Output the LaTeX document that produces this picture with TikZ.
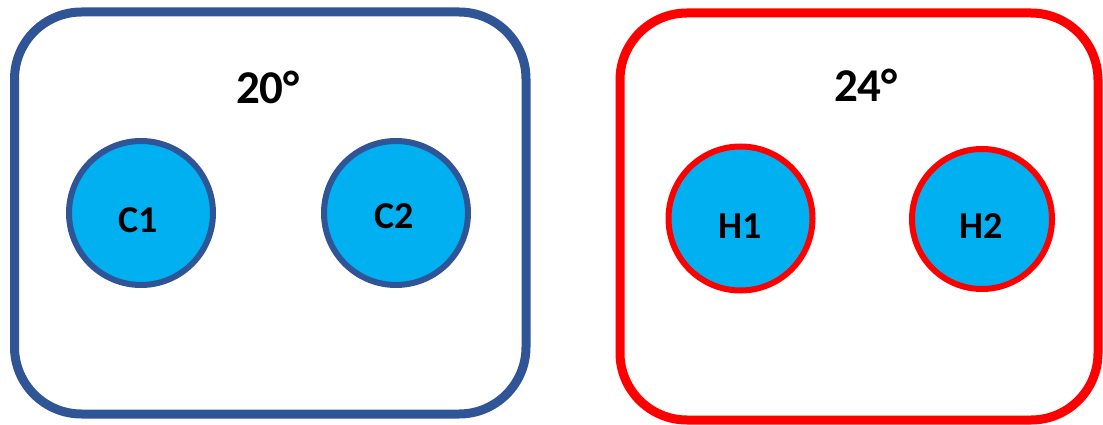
\documentclass[tikz,border=0pt]{standalone}
\usepackage{fontspec}
\setmainfont{Carlito}
\definecolor{coldblue}{HTML}{2F5597}
\definecolor{hotred}{HTML}{FF0000}
\definecolor{cellfill}{HTML}{00B0F0}
\begin{document}
\begin{tikzpicture}[x=1pt,y=-1pt,
  room/.style={draw, line width=9pt, rounded corners=67pt, inner sep=0pt},
  cell/.style={circle, draw, fill=cellfill, line width=6pt, inner sep=0pt, minimum size=144pt},
  celllabel/.style={font=\bfseries\fontsize{38}{38}\selectfont, anchor=base, inner sep=0pt},
  templabel/.style={font=\bfseries\fontsize{47}{47}\selectfont, anchor=base, inner sep=0pt}]
  \useasboundingbox (0,0) rectangle (1103,425);
  % cold room
  \node[room, draw=coldblue, minimum width=511.5pt, minimum height=402pt] (cold) at (270.25,213) {};
  \node[templabel] (tc) at (268,104) {20°};
  \node[cell, draw=coldblue] (c1) at (141,213) {};
  \node[cell, draw=coldblue] (c2) at (396,213) {};
  \node[celllabel] (c1l) at (138,232) {C1};
  \node[celllabel] (c2l) at (394,228) {C2};
  % hot room
  \node[room, draw=hotred, minimum width=478pt, minimum height=407pt] (hot) at (859,216.5) {};
  \node[templabel] (th) at (866,102) {24°};
  \node[cell, draw=hotred] (h1) at (740.5,218.5) {};
  \node[cell, draw=hotred, minimum size=140pt] (h2) at (982,219) {};
  \node[celllabel] (h1l) at (740.5,238) {H1};
  \node[celllabel] (h2l) at (981,238) {H2};
\end{tikzpicture}
\end{document}
